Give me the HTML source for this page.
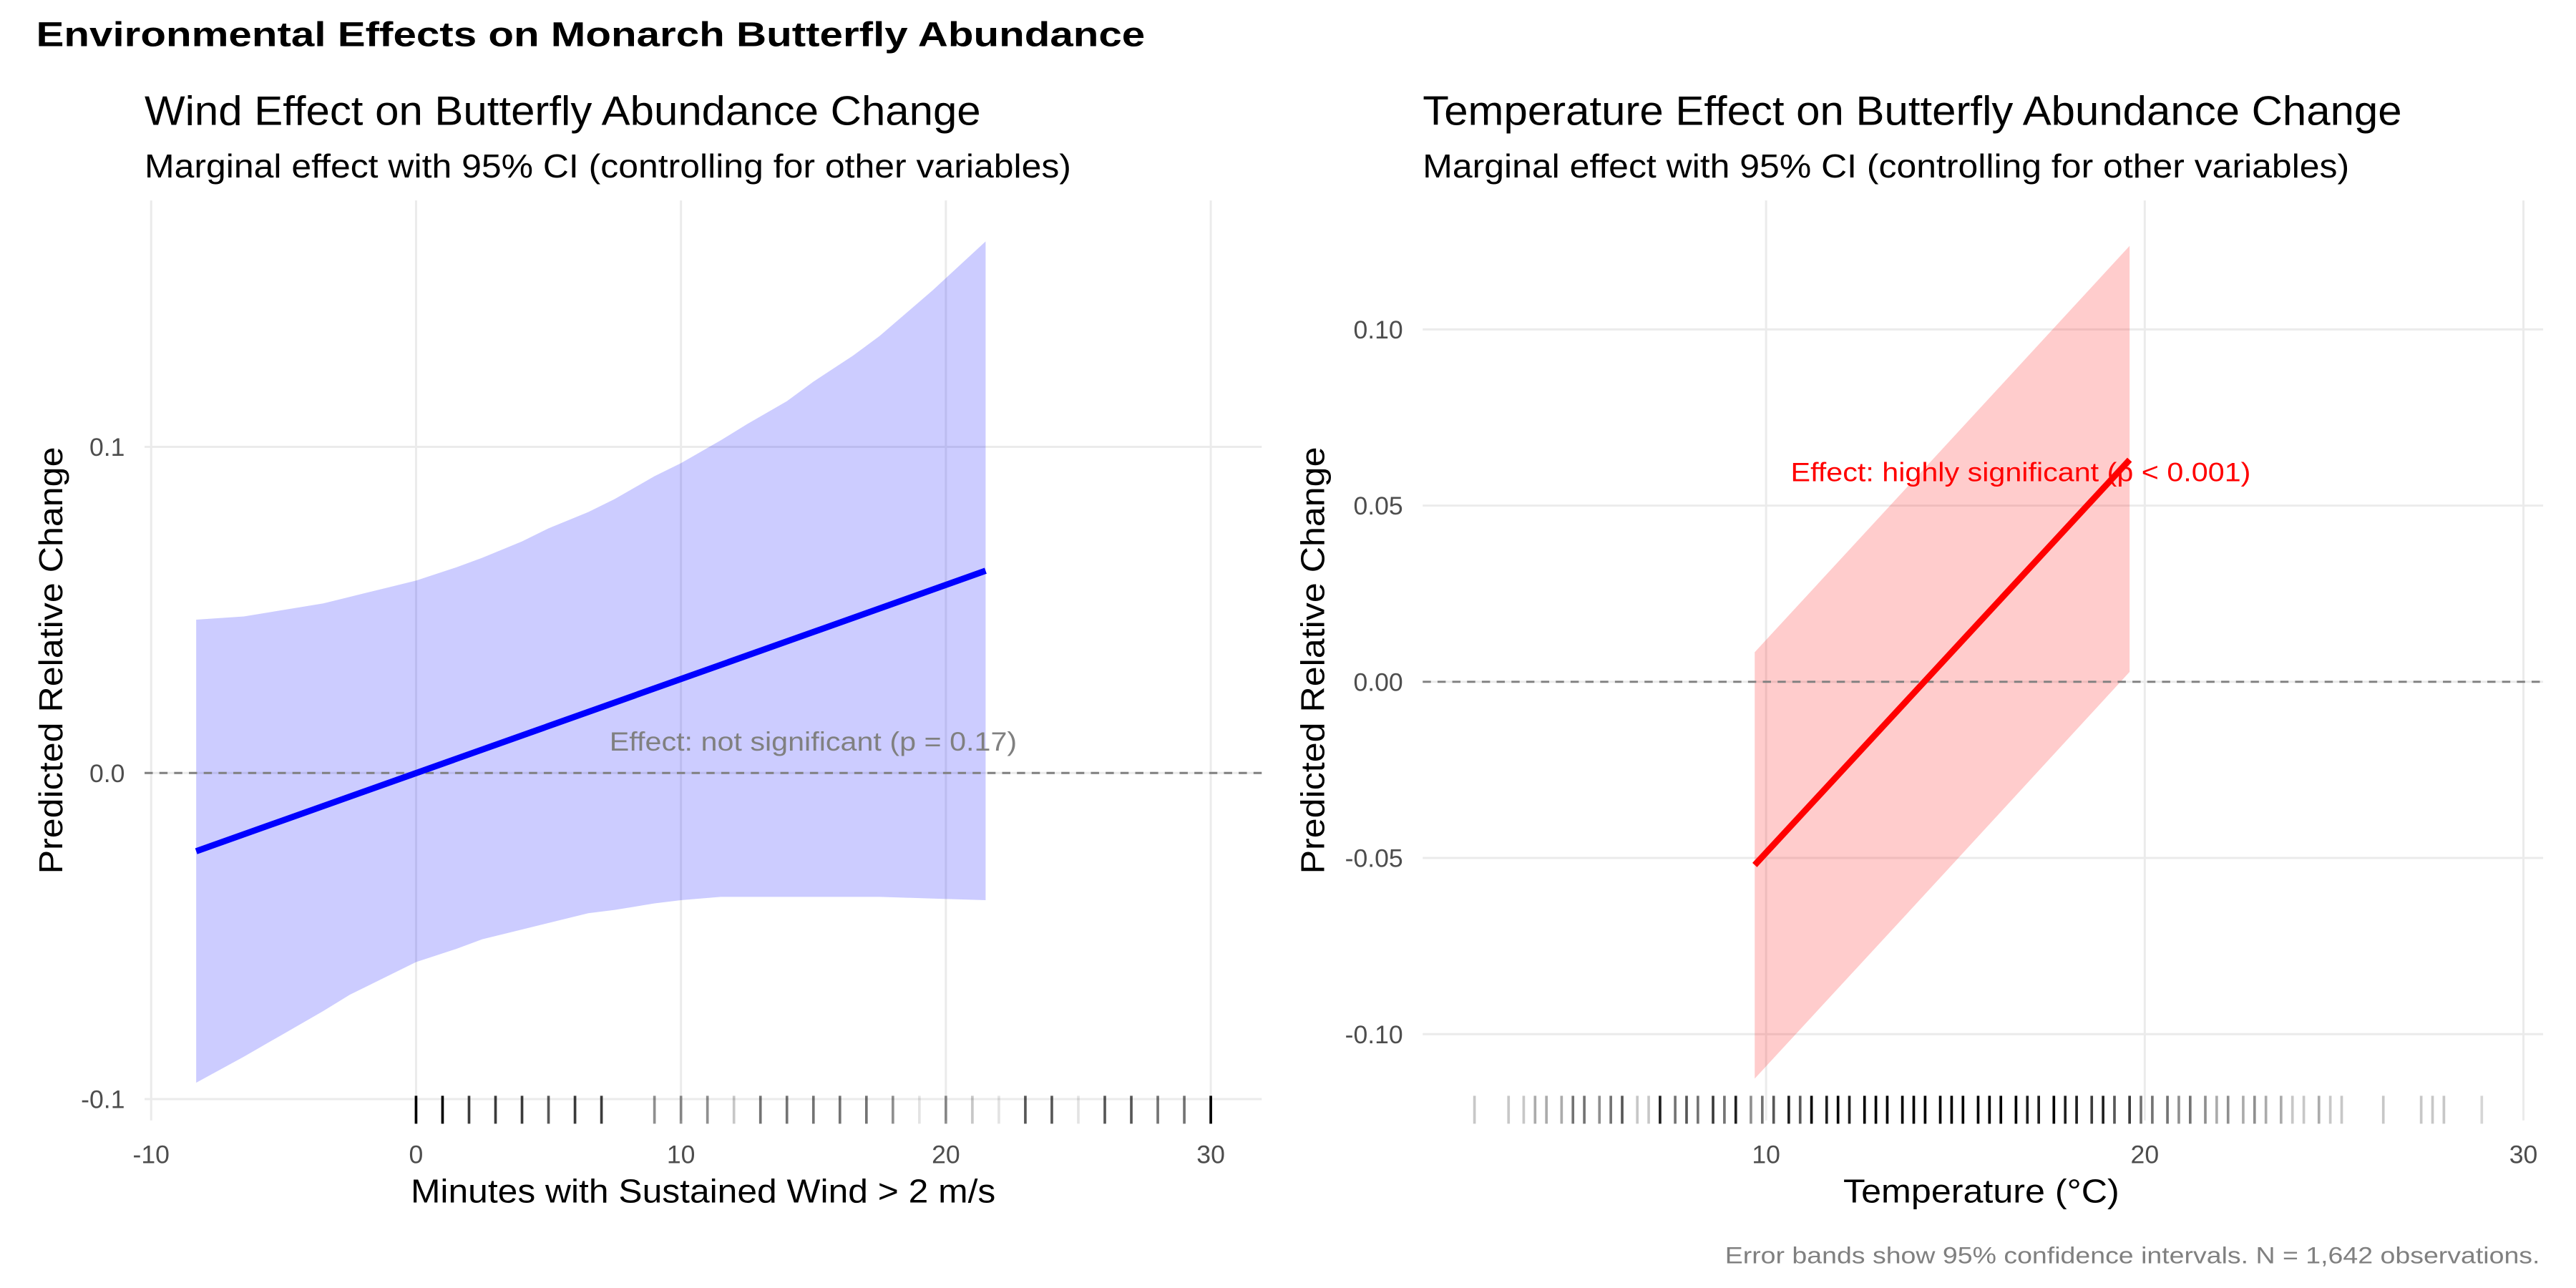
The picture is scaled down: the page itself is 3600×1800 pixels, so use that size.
<!DOCTYPE html>
<html><head><meta charset="utf-8">
<style>
html,body{margin:0;padding:0;background:#fff;}
svg{display:block;font-family:"Liberation Sans",Arial,sans-serif;}
</style></head>
<body>
<svg id="chart" width="3600" height="1800" viewBox="0 0 1568 784" xmlns="http://www.w3.org/2000/svg">
<rect width="1568" height="784" fill="#fff"/>
<text x="22" y="28" font-size="21" font-weight="bold" fill="#000" textLength="675" lengthAdjust="spacingAndGlyphs">Environmental Effects on Monarch Butterfly Abundance</text>
<g id="left"></g>
<g id="right"></g>
<text x="1546" y="769" font-size="14" fill="#808080" text-anchor="end" textLength="496" lengthAdjust="spacingAndGlyphs">Error bands show 95% confidence intervals. N = 1,642 observations.</text>
</svg>
<script>
// ---- Wind panel data ----
const windX = [-8.3, -6.5, -5, -3.5, -2.5, -1, 0, 1.5, 2.5, 4, 5, 6.5, 7.5, 9, 10, 11.5, 12.5, 14, 15, 16.5, 17.5, 19.5, 21.5];
const windUpper = [0.047, 0.048, 0.050, 0.052, 0.054, 0.057, 0.059, 0.063, 0.066, 0.071, 0.075, 0.080, 0.084, 0.091, 0.095, 0.102, 0.107, 0.114, 0.120, 0.128, 0.134, 0.148, 0.163];
const windLower = [-0.095, -0.087, -0.080, -0.073, -0.068, -0.062, -0.058, -0.054, -0.051, -0.048, -0.046, -0.043, -0.042, -0.040, -0.039, -0.038, -0.038, -0.038, -0.038, -0.038, -0.038, -0.0385, -0.039];
const windFitX = [-8.3, 21.5];
const windFit = [-0.024, 0.062];
const windRug = [0,1,2,3,4,5,6,7,9,10,11,12,13,14,15,16,17,18,19,20,21,22,23,24,25,26,27,28,29,30];
const windRugAlpha = [1,1,.7,.7,.7,.6,.7,.7,.4,.4,.4,.2,.5,.5,.5,.5,.5,.4,.1,.4,.2,.1,.6,.6,.1,.6,.6,.5,.5,1];
const windXTicks = [-10, 0, 10, 20, 30];
const windYTicks = [-0.1, 0.0, 0.1];
const windYLabels = ["-0.1", "0.0", "0.1"];
// ---- Temperature panel data ----
const tempX = [9.7, 14.65, 19.6];
const tempUpper = [0.0084, 0.066, 0.1237];
const tempLower = [-0.1126, -0.055, 0.0028];
const tempFitX = [9.7, 19.6];
const tempFit = [-0.052, 0.063];
const tempRug = [2.3,3.2,3.6,3.9,4.2,4.6,4.9,5.2,5.6,5.9,6.2,6.6,6.9,7.2,7.6,7.9,8.2,8.6,8.9,9.2,9.6,9.9,10.2,10.6,10.9,11.2,11.6,11.9,12.2,12.6,12.9,13.2,13.6,13.9,14.2,14.6,14.9,15.2,15.6,15.9,16.2,16.6,16.9,17.2,17.6,17.9,18.2,18.6,18.9,19.2,19.6,19.9,20.2,20.6,20.9,21.2,21.6,21.9,22.2,22.6,22.9,23.2,23.6,23.9,24.2,24.6,24.9,25.2,26.3,27.3,27.6,27.9,28.9];
const tempRugAlpha = [.2,.2,.2,.3,.3,.3,.5,.5,.4,.5,.6,.2,.2,.8,.5,.6,.5,.7,.5,.8,.4,.5,.6,.8,.6,.9,.8,.9,.8,.9,.9,.95,.9,.95,.95,.9,.95,.95,.9,.95,.9,.95,.8,.8,.9,.8,.8,.7,.8,.6,.7,.5,.5,.5,.4,.5,.4,.3,.4,.3,.4,.3,.3,.2,.2,.3,.2,.2,.2,.2,.2,.2,.15];
const tempXTicks = [10, 20, 30];
const tempYTicks = [-0.10, -0.05, 0.00, 0.05, 0.10];
const tempYLabels = ["-0.10", "-0.05", "0.00", "0.05", "0.10"];

const NS = "http://www.w3.org/2000/svg";
function mk(parent, tag, attrs, text) {
  const e = document.createElementNS(NS, tag);
  for (const k in attrs) e.setAttribute(k, attrs[k]);
  if (text !== undefined) e.textContent = text;
  parent.appendChild(e);
  return e;
}
function lin(d0, d1, r0, r1) { return v => r0 + (v - d0) * (r1 - r0) / (d1 - d0); }

function panel(g, cfg) {
  const xs = cfg.xs, ys = cfg.ys;
  cfg.yTicks.forEach((t, i) => {
    const l = mk(g, 'line', {x1: cfg.left, x2: cfg.right, y1: ys(t), y2: ys(t), stroke: '#ebebeb', 'stroke-width': 1.3});
    
    
    const tx = mk(g, 'text', {x: cfg.left - 12, y: ys(t) + 5.5, 'font-size': 15.5, fill: '#4d4d4d', 'text-anchor': 'end'}, cfg.yLabels[i]);
    
    
  });
  cfg.xTicks.forEach(t => {
    const l = mk(g, 'line', {x1: xs(t), x2: xs(t), y1: cfg.top, y2: cfg.bottom, stroke: '#ebebeb', 'stroke-width': 1.3});
    
    
    const tx = mk(g, 'text', {x: xs(t), y: 708, 'font-size': 15.5, fill: '#4d4d4d', 'text-anchor': 'middle'}, String(t));
    
    
  });
  let pts = cfg.bx.map((x, i) => xs(x) + ',' + ys(cfg.bu[i]));
  for (let i = cfg.bx.length - 1; i >= 0; i--) pts.push(xs(cfg.bx[i]) + ',' + ys(cfg.bl[i]));
  const band = mk(g, 'polygon', {points: pts.join(' '), fill: cfg.bandFill});
  
  
  const z = mk(g, 'line', {x1: cfg.left, x2: cfg.right, y1: ys(0), y2: ys(0), stroke: '#808080', 'stroke-width': 1.3, 'stroke-dasharray': '5,4'});
  
  
  const f = mk(g, 'line', {x1: xs(cfg.fx[0]), y1: ys(cfg.fy[0]), x2: xs(cfg.fx[1]), y2: ys(cfg.fy[1]), stroke: cfg.lineColor, 'stroke-width': 3.8});
  
  
  cfg.rug.forEach((v, i) => {
    const a = cfg.rugA[i] === undefined ? 0.5 : cfg.rugA[i];
    const r = mk(g, 'line', {x1: xs(v), x2: xs(v), y1: 667, y2: 684, stroke: '#000', 'stroke-width': 1.6, 'stroke-opacity': Math.min(1, a * 1.1)});
    
    
  });
  const a = mk(g, 'text', {x: cfg.ann[0], y: cfg.ann[1], 'font-size': 16, fill: cfg.annColor, textLength: cfg.annW, lengthAdjust: 'spacingAndGlyphs'}, cfg.annText);
  
  
  const t1 = mk(g, 'text', {x: cfg.titleX, y: 76, 'font-size': 25, fill: '#000', textLength: cfg.titleW, lengthAdjust: 'spacingAndGlyphs'}, cfg.title);
  
  
  const t2 = mk(g, 'text', {x: cfg.titleX, y: 108, 'font-size': 20, fill: '#000', textLength: 564, lengthAdjust: 'spacingAndGlyphs'}, 'Marginal effect with 95% CI (controlling for other variables)');
  
  
  const xt = mk(g, 'text', {x: cfg.xTitleX, y: 732, 'font-size': 20, fill: '#000', textLength: cfg.xTitleW, lengthAdjust: 'spacingAndGlyphs'}, cfg.xTitle);
  
  
  const yt = mk(g, 'text', {x: 0, y: 0, 'font-size': 20, fill: '#000', textLength: 260, lengthAdjust: 'spacingAndGlyphs', transform: 'translate(' + cfg.yTitleX + ',532) rotate(-90)'}, 'Predicted Relative Change');
  
  
}

panel(document.getElementById('left'), {
  xs: lin(-10, 30, 92, 737), ys: lin(0, 0.1, 470.5, 272),
  left: 88, right: 768, top: 122, bottom: 682,
  xTicks: windXTicks, yTicks: windYTicks, yLabels: windYLabels,
  bx: windX, bu: windUpper, bl: windLower, bandFill: 'rgba(0,0,255,0.2)',
  fx: windFitX, fy: windFit, lineColor: '#0000ff',
  rug: windRug, rugA: windRugAlpha,
  ann: [371, 457], annW: 248, annColor: '#808080', annText: 'Effect: not significant (p = 0.17)',
  titleX: 88, titleW: 509, title: 'Wind Effect on Butterfly Abundance Change',
  xTitleX: 250, xTitleW: 356, xTitle: 'Minutes with Sustained Wind > 2 m/s', yTitleX: 38
});
panel(document.getElementById('right'), {
  xs: lin(10, 30, 1075, 1536), ys: lin(0, 0.1, 415, 200.5),
  left: 866, right: 1548, top: 122, bottom: 682,
  xTicks: tempXTicks, yTicks: tempYTicks, yLabels: tempYLabels,
  bx: tempX, bu: tempUpper, bl: tempLower, bandFill: 'rgba(255,0,0,0.2)',
  fx: tempFitX, fy: tempFit, lineColor: '#ff0000',
  rug: tempRug, rugA: tempRugAlpha,
  ann: [1090, 293], annW: 280, annColor: '#ff0000', annText: 'Effect: highly significant (p < 0.001)',
  titleX: 866, titleW: 596, title: 'Temperature Effect on Butterfly Abundance Change',
  xTitleX: 1122, xTitleW: 168, xTitle: 'Temperature (°C)', yTitleX: 806
});
</script>
</body></html>
